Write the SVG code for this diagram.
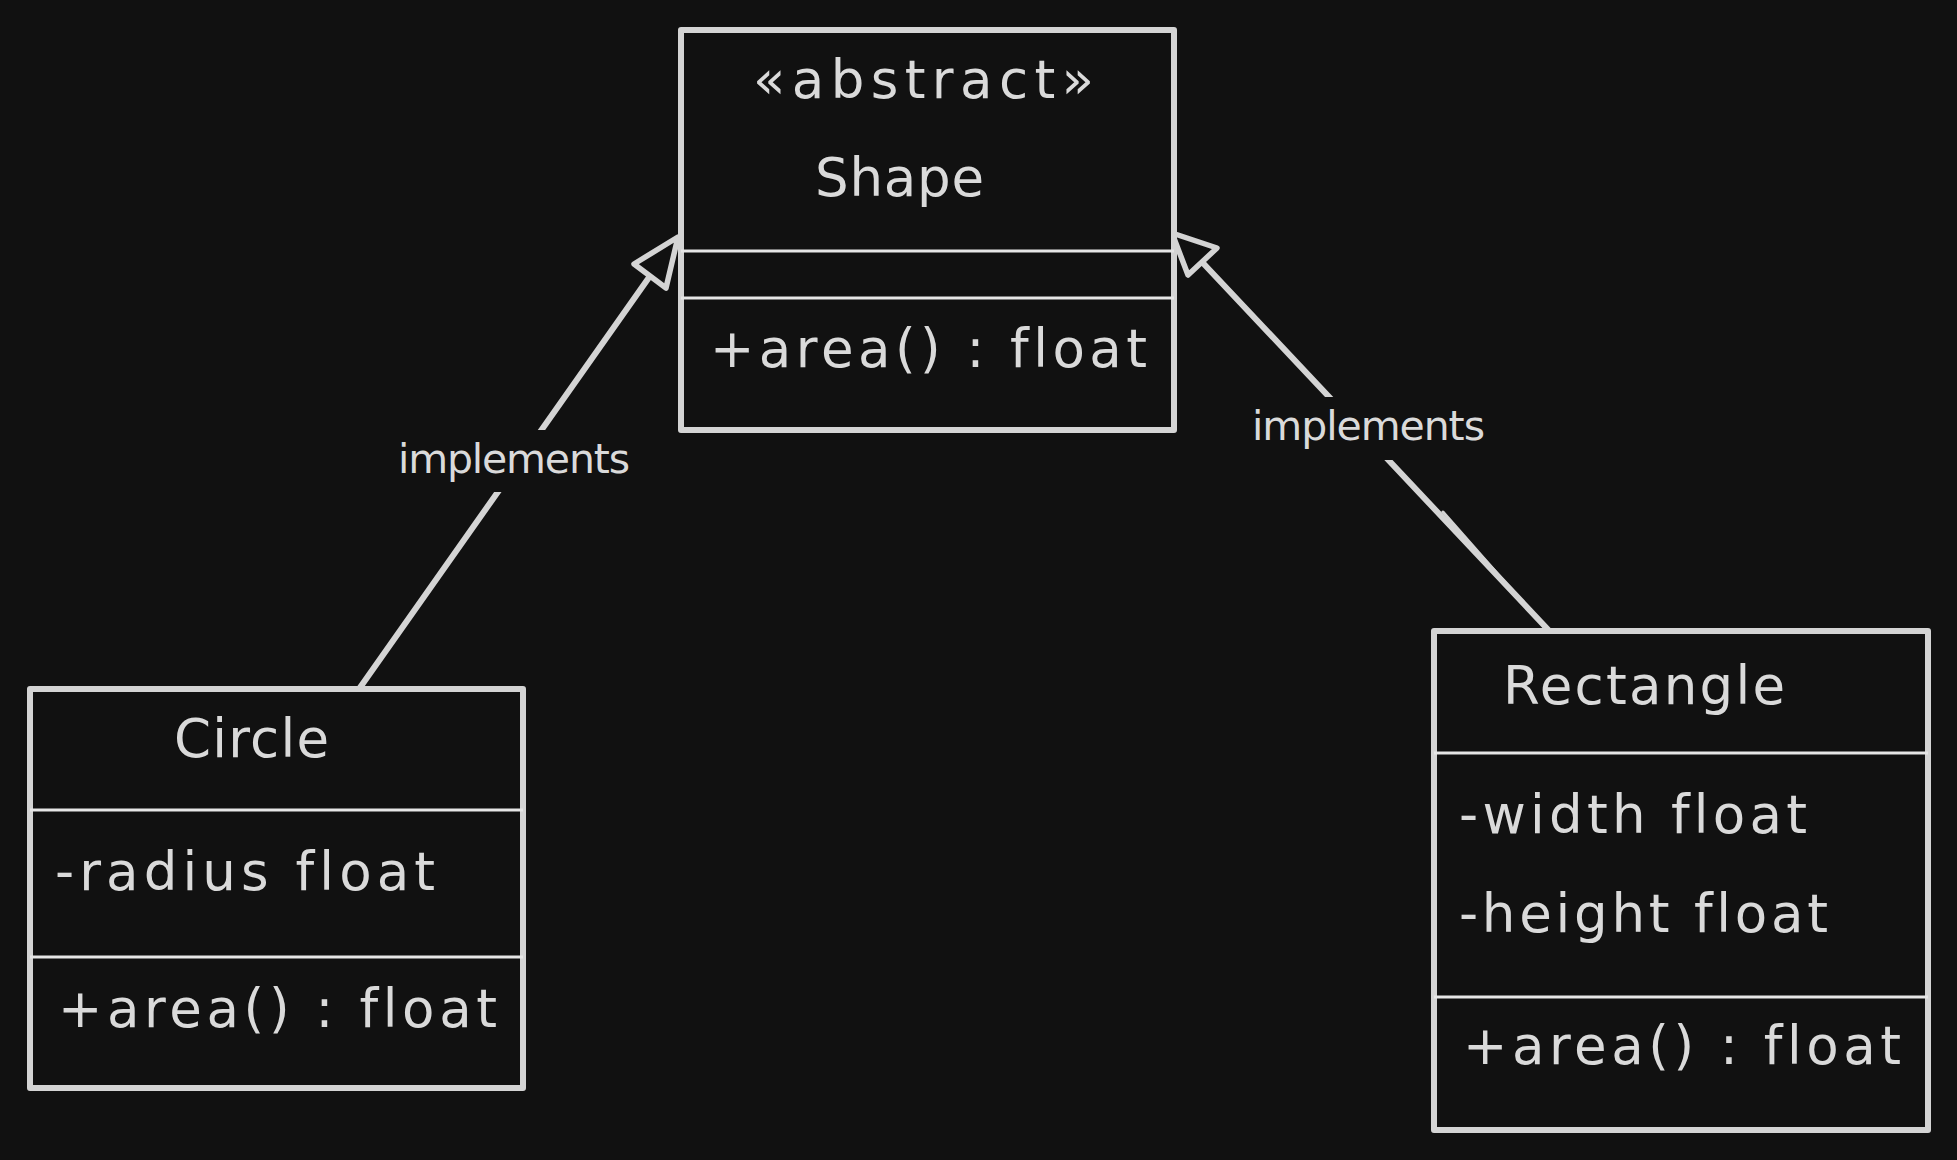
<svg xmlns="http://www.w3.org/2000/svg" width="1957" height="1160" viewBox="0 0 1957 1160">
<style>
.box{fill:#111111;stroke:#d4d4d4;stroke-width:6;stroke-linejoin:round}
.div{stroke:#e6e6e6;stroke-width:3;fill:none}
.t{font-family:"DejaVu Sans",sans-serif;font-size:53px;fill:#dadada;font-variant-ligatures:none}
.lbl{font-family:"DejaVu Sans",sans-serif;font-size:41px;fill:#dadada;font-variant-ligatures:none}
.edge{stroke:#d4d4d4;stroke-width:6;fill:none;stroke-linecap:round}
.head{fill:#111111;stroke:#d4d4d4;stroke-width:5.5;stroke-linejoin:round}
.lblbg{fill:#111111}
</style>
<rect x="0" y="0" width="1957" height="1160" fill="#111111"/>

<g id="connectors">
  <g id="edge-circle-shape">
    <line class="edge" x1="359" y1="689" x2="650" y2="276"/>
    <polygon class="head" points="678,237 634,264 666,288"/>
  </g>
  <g id="edge-rectangle-shape">
    <line class="edge" x1="1555" y1="637" x2="1202" y2="262"/>
    <line class="edge" style="stroke-width:3" x1="1443" y1="512" x2="1547" y2="630"/>
    <polygon class="head" points="1172,233 1217,248 1188,275"/>
  </g>
</g>

<g id="edge-labels">
  <g id="label-left">
    <rect class="lblbg" x="395" y="430" width="238" height="62"/>
    <text class="lbl" x="398" y="473" textLength="232" lengthAdjust="spacing">implements</text>
  </g>
  <g id="label-right">
    <rect class="lblbg" x="1249" y="397" width="239" height="63"/>
    <text class="lbl" x="1252" y="440" textLength="233" lengthAdjust="spacing">implements</text>
  </g>
</g>

<g id="node-shape">
  <rect class="box" x="681" y="30" width="493" height="400"/>
  <line class="div" x1="681" y1="251" x2="1174" y2="251"/>
  <line class="div" x1="681" y1="298" x2="1174" y2="298"/>
  <text class="t" x="753" y="98" textLength="341" lengthAdjust="spacing">«abstract»</text>
  <text class="t" x="815" y="196" textLength="169" lengthAdjust="spacing">Shape</text>
  <text class="t" x="710" y="367" textLength="437" lengthAdjust="spacing">+area() : float</text>
</g>

<g id="node-circle">
  <rect class="box" x="30" y="689" width="493" height="399"/>
  <line class="div" x1="30" y1="810" x2="523" y2="810"/>
  <line class="div" x1="30" y1="957" x2="523" y2="957"/>
  <text class="t" x="174" y="757" textLength="155" lengthAdjust="spacing">Circle</text>
  <text class="t" x="55" y="890" textLength="380" lengthAdjust="spacing">-radius float</text>
  <text class="t" x="58" y="1027" textLength="439" lengthAdjust="spacing">+area() : float</text>
</g>

<g id="node-rectangle">
  <rect class="box" x="1434" y="631" width="494" height="499"/>
  <line class="div" x1="1434" y1="753" x2="1928" y2="753"/>
  <line class="div" x1="1434" y1="997" x2="1928" y2="997"/>
  <text class="t" x="1503" y="704" textLength="282" lengthAdjust="spacing">Rectangle</text>
  <text class="t" x="1459" y="833" textLength="348" lengthAdjust="spacing">-width float</text>
  <text class="t" x="1459" y="932" textLength="369" lengthAdjust="spacing">-height float</text>
  <text class="t" x="1463" y="1064" textLength="438" lengthAdjust="spacing">+area() : float</text>
</g>
</svg>
